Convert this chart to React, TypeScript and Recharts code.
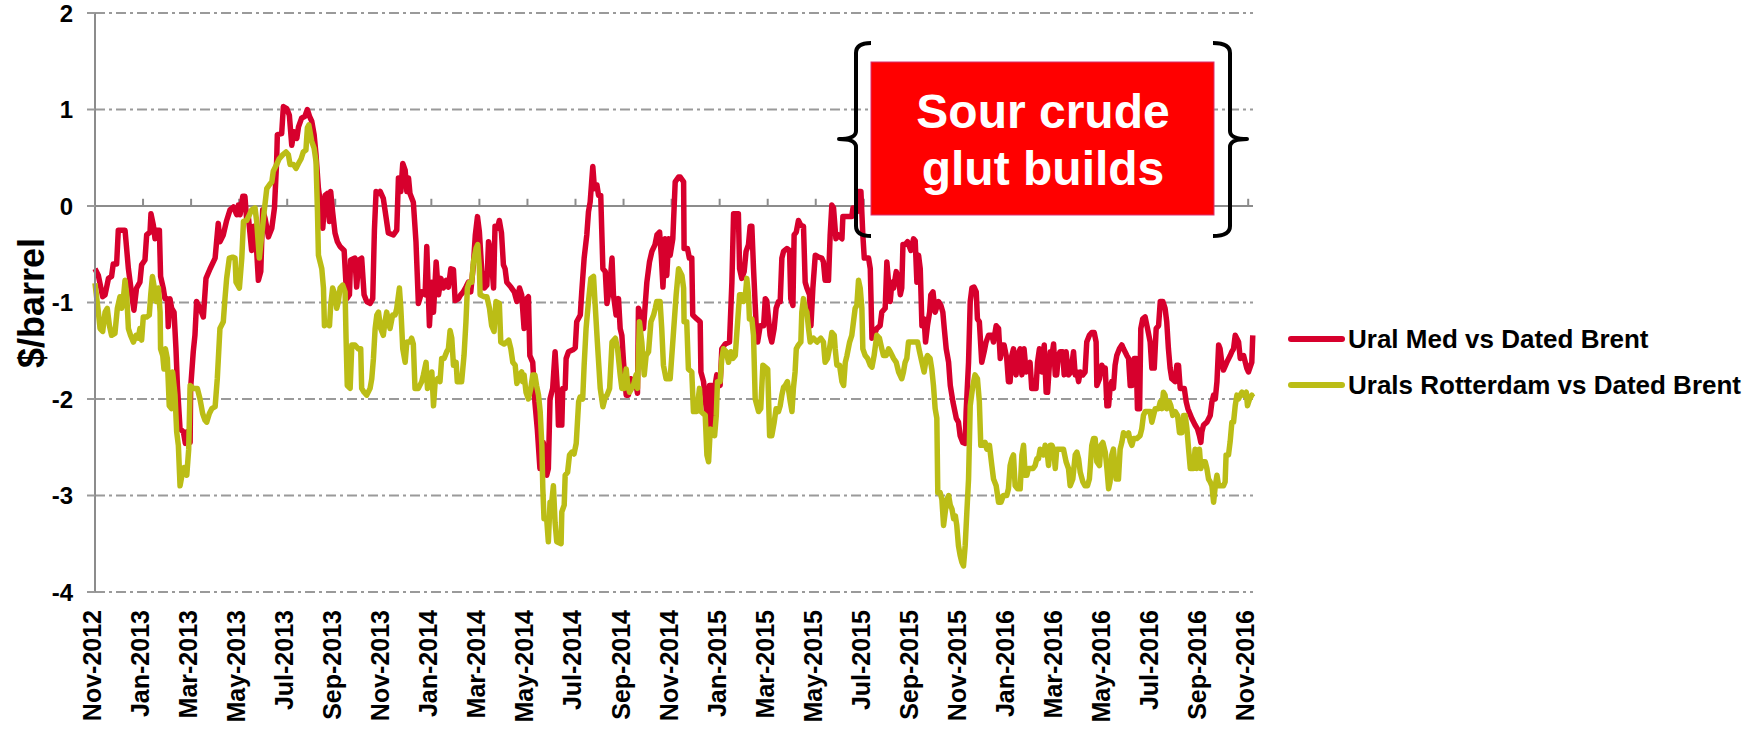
import { CartesianGrid, Line, LineChart, ReferenceLine, XAxis, YAxis } from 'recharts'

const FONT = '"Liberation Sans", Arial, sans-serif'
const RED = '#D7002D'
const OLIVE = '#BBBD16'
const GRID = '#9a9a9a'
const AXIS = '#8c8c8c'

// x = months since Nov-2012, y = $/barrel
const uralMed: [number, number][] = [
  [0, -0.65], [0.14, -0.72], [0.32, -0.94], [0.42, -0.92], [0.56, -0.75], [0.69, -0.73], [0.76, -0.6], [0.9, -0.6],
  [0.97, -0.25], [1.25, -0.25], [1.39, -0.65], [1.53, -0.92], [1.62, -1.08], [1.73, -0.85], [1.87, -0.79], [1.94, -0.61],
  [2.08, -0.56], [2.15, -0.3], [2.29, -0.27], [2.33, -0.08], [2.43, -0.2], [2.5, -0.34], [2.57, -0.25], [2.68, -0.25],
  [2.73, -0.73], [2.84, -0.85], [2.91, -0.96], [3.01, -0.96], [3.05, -1.25], [3.12, -0.96], [3.19, -1.06], [3.29, -1.1],
  [3.37, -1.48], [3.43, -1.86], [3.54, -2.31], [3.68, -2.34], [3.76, -2.46], [3.84, -2.34], [3.96, -2.45], [3.98, -1.89],
  [4.09, -1.51], [4.16, -1.34], [4.23, -0.99], [4.37, -1.06], [4.51, -1.15], [4.62, -0.75], [4.79, -0.65], [5.0, -0.54],
  [5.13, -0.18], [5.2, -0.37], [5.34, -0.3], [5.48, -0.15], [5.62, -0.04], [5.76, -0.01], [5.9, -0.09], [5.97, 0.01],
  [6.04, -0.09], [6.15, 0.1], [6.24, 0.1], [6.31, -0.13], [6.38, -0.1], [6.52, -0.46], [6.62, -0.21], [6.73, -0.47],
  [6.8, -0.77], [6.9, -0.68], [6.98, -0.04], [7.08, -0.13], [7.22, -0.32], [7.36, -0.23], [7.47, -0.02], [7.56, 0.46],
  [7.59, 0.74], [7.77, 0.75], [7.84, 1.03], [7.98, 1.01], [8.09, 0.94], [8.19, 0.63], [8.28, 0.77], [8.4, 0.7],
  [8.47, 0.82], [8.6, 0.91], [8.74, 0.93], [8.84, 1.0], [8.93, 0.93], [9.02, 0.88], [9.12, 0.74], [9.2, 0.53],
  [9.3, 0.18], [9.4, 0.01], [9.48, -0.23], [9.58, 0.11], [9.67, 0.13], [9.76, -0.16], [9.81, 0.15], [9.89, -0.06],
  [9.99, -0.28], [10.09, -0.37], [10.2, -0.42], [10.37, -0.46], [10.48, -0.96], [10.59, -0.92], [10.64, -0.56], [10.82, -0.54],
  [10.89, -0.84], [10.99, -0.56], [11.1, -0.54], [11.2, -0.92], [11.31, -0.99], [11.45, -1.01], [11.56, -0.96], [11.63, -0.25],
  [11.7, 0.15], [11.81, 0.13], [11.87, 0.15], [12.0, 0.08], [12.21, -0.28], [12.42, -0.3], [12.56, -0.25], [12.63, 0.29],
  [12.73, 0.15], [12.81, 0.44], [12.91, 0.37], [12.98, 0.15], [13.05, 0.29], [13.11, 0.13], [13.25, 0.04], [13.36, -0.37],
  [13.46, -1.01], [13.6, -0.89], [13.74, -0.92], [13.81, -0.42], [13.92, -1.24], [14.02, -0.79], [14.09, -1.1], [14.2, -0.58],
  [14.3, -0.92], [14.4, -0.75], [14.5, -0.85], [14.62, -0.77], [14.71, -0.84], [14.81, -0.65], [14.92, -0.66], [14.99, -0.98],
  [15.13, -0.96], [15.22, -0.92], [15.33, -0.89], [15.44, -0.84], [15.54, -0.79], [15.64, -0.89], [15.75, -0.61], [15.83, -0.3],
  [15.92, -0.11], [16.0, -0.27], [16.1, -0.68], [16.2, -0.85], [16.31, -0.82], [16.38, -0.37], [16.47, -0.47], [16.59, -0.85],
  [16.65, -0.21], [16.75, -0.23], [16.83, -0.15], [16.92, -0.28], [17.0, -0.61], [17.07, -0.65], [17.14, -0.79], [17.31, -0.84],
  [17.45, -0.89], [17.56, -0.99], [17.67, -0.85], [17.76, -0.92], [17.86, -1.27], [17.97, -0.96], [18.04, -0.94], [18.1, -1.55],
  [18.22, -1.62], [18.31, -2.03], [18.41, -2.31], [18.52, -2.72], [18.66, -2.45], [18.8, -2.79], [18.87, -2.72], [18.94, -2.0],
  [19.05, -1.89], [19.15, -1.51], [19.25, -1.93], [19.29, -2.27], [19.43, -2.27], [19.47, -1.89], [19.57, -1.89], [19.61, -1.58],
  [19.71, -1.51], [19.89, -1.49], [19.99, -1.47], [20.05, -1.2], [20.2, -1.13], [20.26, -0.89], [20.36, -0.54], [20.47, -0.3],
  [20.54, -0.06], [20.61, 0.04], [20.72, 0.41], [20.79, 0.18], [20.89, 0.22], [20.96, 0.11], [21.05, 0.11], [21.14, -0.65],
  [21.24, -0.68], [21.31, -1.01], [21.42, -0.85], [21.52, -0.54], [21.58, -0.92], [21.69, -1.13], [21.79, -0.96], [21.86, -1.27],
  [21.93, -1.34], [22.0, -1.62], [22.11, -1.96], [22.2, -1.96], [22.3, -1.79], [22.39, -1.82], [22.48, -1.79], [22.58, -1.94],
  [22.62, -1.06], [22.72, -1.13], [22.83, -1.27], [22.9, -1.03], [22.97, -0.79], [23.08, -0.58], [23.18, -0.47], [23.31, -0.4],
  [23.39, -0.3], [23.5, -0.27], [23.57, -0.51], [23.64, -0.84], [23.73, -0.34], [23.8, -0.72], [23.88, -0.34], [23.94, -0.51],
  [24.05, -0.34], [24.15, 0.25], [24.29, 0.3], [24.36, 0.3], [24.5, 0.25], [24.52, -0.44], [24.66, -0.44], [24.74, -0.54],
  [24.84, -0.54], [24.88, -1.13], [25.05, -1.17], [25.19, -1.2], [25.22, -1.72], [25.33, -1.82], [25.4, -2.0], [25.47, -2.17],
  [25.54, -2.31], [25.58, -1.86], [25.67, -1.86], [25.74, -2.31], [25.81, -1.86], [25.88, -1.75], [26.02, -1.86], [26.09, -1.48],
  [26.23, -1.43], [26.41, -1.41], [26.51, -0.79], [26.58, -0.08], [26.78, -0.08], [26.83, -0.65], [26.92, -0.75], [27.02, -0.68],
  [27.1, -0.47], [27.2, -0.4], [27.27, -0.21], [27.34, -0.21], [27.41, -0.65], [27.52, -1.24], [27.58, -1.41], [27.69, -1.24],
  [27.83, -1.24], [27.9, -0.96], [27.96, -0.98], [28.1, -1.34], [28.17, -1.41], [28.27, -1.27], [28.35, -1.06], [28.45, -0.99],
  [28.52, -0.99], [28.59, -0.54], [28.66, -0.47], [28.8, -0.44], [28.91, -0.46], [28.96, -0.96], [29.05, -1.03], [29.1, -0.3],
  [29.19, -0.27], [29.28, -0.15], [29.38, -0.2], [29.49, -0.21], [29.56, -0.79], [29.63, -0.85], [29.74, -0.92], [29.8, -1.24],
  [29.88, -0.85], [29.98, -0.51], [30.12, -0.53], [30.25, -0.54], [30.32, -0.58], [30.39, -0.77], [30.53, -0.77], [30.6, -0.3],
  [30.67, 0.01], [30.74, -0.02], [30.84, -0.34], [30.95, -0.3], [31.09, -0.34], [31.13, -0.11], [31.29, -0.11], [31.5, -0.11],
  [31.55, -0.02], [31.71, -0.06], [31.78, 0.15], [31.88, 0.15], [31.96, -0.3], [32.02, -0.54], [32.2, -0.54], [32.27, -0.65],
  [32.34, -1.37], [32.43, -1.34], [32.54, -1.27], [32.68, -1.24], [32.75, -1.1], [32.89, -1.06], [32.96, -0.58], [33.03, -0.79],
  [33.1, -0.99], [33.17, -0.79], [33.24, -0.85], [33.35, -0.68], [33.45, -0.75], [33.52, -0.92], [33.58, -0.85], [33.63, -0.4],
  [33.72, -0.4], [33.82, -0.37], [33.96, -0.46], [34.07, -0.34], [34.14, -0.36], [34.21, -0.79], [34.28, -0.51], [34.35, -0.65],
  [34.42, -1.24], [34.51, -1.17], [34.57, -1.41], [34.65, -1.24], [34.74, -1.1], [34.79, -0.92], [34.88, -0.89], [34.97, -1.1],
  [35.11, -0.99], [35.21, -1.03], [35.29, -1.1], [35.35, -1.27], [35.43, -1.48], [35.53, -1.62], [35.6, -1.86], [35.71, -2.03],
  [35.85, -2.2], [35.94, -2.24], [36.01, -2.38], [36.12, -2.45], [36.22, -2.46], [36.26, -2.13], [36.36, -1.62], [36.43, -0.99],
  [36.5, -0.85], [36.59, -0.84], [36.68, -0.89], [36.73, -1.17], [36.81, -1.2], [36.91, -1.62], [37.01, -1.51], [37.09, -1.41],
  [37.19, -1.34], [37.33, -1.34], [37.4, -1.41], [37.51, -1.24], [37.61, -1.27], [37.68, -1.58], [37.74, -1.44], [37.84, -1.44],
  [37.95, -1.58], [38.02, -1.82], [38.09, -1.82], [38.16, -1.55], [38.23, -1.48], [38.34, -1.75], [38.4, -1.55], [38.51, -1.48],
  [38.58, -1.75], [38.67, -1.48], [38.76, -1.72], [38.85, -1.68], [38.92, -1.62], [38.99, -1.89], [39.17, -1.89], [39.23, -1.62],
  [39.31, -1.48], [39.41, -1.72], [39.51, -1.44], [39.59, -1.93], [39.65, -1.93], [39.76, -1.51], [39.83, -1.55], [39.9, -1.43],
  [39.97, -1.75], [40.03, -1.75], [40.1, -1.55], [40.17, -1.51], [40.28, -1.51], [40.34, -1.75], [40.42, -1.51], [40.52, -1.75],
  [40.62, -1.72], [40.73, -1.51], [40.8, -1.75], [40.87, -1.72], [40.94, -1.82], [41.01, -1.72], [41.12, -1.75], [41.21, -1.72],
  [41.28, -1.41], [41.39, -1.34], [41.49, -1.31], [41.59, -1.31], [41.67, -1.41], [41.7, -1.86], [41.81, -1.79], [41.91, -1.65],
  [41.98, -1.72], [42.05, -1.68], [42.12, -2.07], [42.19, -2.07], [42.25, -1.89], [42.32, -1.82], [42.39, -1.89], [42.46, -1.65],
  [42.53, -1.55], [42.64, -1.48], [42.74, -1.44], [42.81, -1.48], [42.95, -1.55], [43.02, -1.58], [43.09, -1.86], [43.16, -1.86],
  [43.25, -1.58], [43.34, -1.58], [43.39, -2.1], [43.48, -2.1], [43.53, -1.27], [43.61, -1.17], [43.71, -1.15], [43.81, -1.27],
  [43.92, -1.41], [43.99, -1.68], [44.09, -1.68], [44.17, -1.27], [44.27, -1.24], [44.34, -0.99], [44.45, -0.99], [44.54, -1.06],
  [44.61, -1.2], [44.68, -1.48], [44.75, -1.68], [44.82, -1.79], [44.96, -1.82], [45.03, -1.65], [45.1, -1.65], [45.17, -1.89],
  [45.34, -1.89], [45.42, -2.03], [45.49, -2.1], [45.65, -2.2], [45.79, -2.27], [45.89, -2.31], [45.97, -2.38], [46.03, -2.45],
  [46.07, -2.34], [46.14, -2.27], [46.28, -2.24], [46.42, -2.17], [46.49, -2.03], [46.56, -1.96], [46.63, -2.0], [46.7, -1.82],
  [46.77, -1.44], [46.83, -1.48], [46.9, -1.62], [46.97, -1.7], [47.11, -1.62], [47.25, -1.55], [47.32, -1.51], [47.39, -1.48],
  [47.46, -1.34], [47.6, -1.41], [47.67, -1.58], [47.81, -1.55], [47.94, -1.68], [48.01, -1.72], [48.15, -1.62], [48.19, -1.34],
]

const uralsRotterdam: [number, number][] = [
  [0, -0.8], [0.14, -1.1], [0.21, -1.27], [0.32, -1.3], [0.42, -1.1], [0.51, -1.06], [0.6, -1.24], [0.69, -1.34],
  [0.83, -1.32], [0.93, -1.06], [1.04, -0.94], [1.11, -1.06], [1.18, -0.96], [1.25, -0.77], [1.32, -0.92], [1.39, -1.27],
  [1.48, -1.34], [1.6, -1.41], [1.71, -1.34], [1.8, -1.37], [1.87, -1.27], [1.94, -1.39], [2.01, -1.15], [2.15, -1.15],
  [2.26, -1.13], [2.32, -0.92], [2.39, -0.73], [2.47, -0.85], [2.54, -0.99], [2.64, -0.85], [2.71, -1.1], [2.73, -1.48],
  [2.82, -1.55], [2.87, -1.69], [2.93, -1.48], [3.01, -1.58], [3.09, -2.07], [3.19, -2.1], [3.23, -1.72], [3.33, -1.96],
  [3.4, -2.34], [3.47, -2.48], [3.54, -2.9], [3.62, -2.79], [3.71, -2.71], [3.82, -2.79], [3.9, -2.52], [3.96, -1.86],
  [4.09, -1.89], [4.26, -1.89], [4.37, -2.0], [4.48, -2.15], [4.58, -2.22], [4.65, -2.24], [4.76, -2.15], [4.86, -2.1],
  [5.0, -2.08], [5.09, -1.79], [5.2, -1.27], [5.34, -1.2], [5.41, -0.96], [5.48, -0.75], [5.59, -0.54], [5.73, -0.53],
  [5.83, -0.54], [5.87, -0.79], [6.01, -0.85], [6.11, -0.54], [6.18, -0.16], [6.31, -0.15], [6.43, -0.09], [6.52, -0.04],
  [6.66, -0.02], [6.73, -0.16], [6.84, -0.54], [6.94, -0.3], [7.04, -0.06], [7.15, 0.18], [7.26, 0.22], [7.36, 0.25],
  [7.42, 0.36], [7.56, 0.43], [7.67, 0.49], [7.81, 0.53], [7.95, 0.56], [8.05, 0.53], [8.12, 0.43], [8.26, 0.43],
  [8.37, 0.39], [8.47, 0.44], [8.58, 0.49], [8.67, 0.56], [8.78, 0.58], [8.84, 0.81], [8.9, 0.84], [8.95, 0.77],
  [9.02, 0.67], [9.12, 0.6], [9.2, 0.46], [9.26, -0.06], [9.3, -0.51], [9.44, -0.65], [9.51, -0.85], [9.55, -1.24],
  [9.65, -1.22], [9.76, -1.24], [9.81, -1.03], [9.89, -0.85], [9.99, -0.92], [10.06, -1.06], [10.13, -0.99], [10.2, -0.85],
  [10.31, -0.82], [10.41, -0.89], [10.45, -1.37], [10.5, -1.86], [10.62, -1.89], [10.69, -1.44], [10.82, -1.44], [10.96, -1.48],
  [11.06, -1.48], [11.1, -1.89], [11.2, -1.93], [11.31, -1.96], [11.45, -1.89], [11.52, -1.79], [11.59, -1.58], [11.66, -1.27],
  [11.73, -1.13], [11.8, -1.1], [11.89, -1.27], [12.0, -1.34], [12.07, -1.2], [12.14, -1.1], [12.28, -1.27], [12.39, -1.13],
  [12.49, -1.13], [12.56, -1.06], [12.67, -0.85], [12.73, -1.06], [12.81, -1.48], [12.91, -1.62], [12.98, -1.41], [13.11, -1.41],
  [13.18, -1.37], [13.25, -1.43], [13.32, -1.89], [13.46, -1.89], [13.6, -1.82], [13.67, -1.75], [13.78, -1.62], [13.84, -1.89],
  [13.95, -1.82], [14.02, -1.72], [14.09, -2.07], [14.16, -1.82], [14.26, -1.79], [14.36, -1.82], [14.43, -1.58], [14.53, -1.58],
  [14.64, -1.51], [14.71, -1.48], [14.78, -1.29], [14.85, -1.37], [14.92, -1.65], [15.03, -1.62], [15.08, -1.82], [15.26, -1.82],
  [15.36, -1.55], [15.44, -1.2], [15.5, -0.85], [15.58, -0.79], [15.68, -0.79], [15.75, -0.58], [15.86, -0.44], [15.93, -0.4],
  [16.0, -0.65], [16.03, -0.92], [16.2, -0.94], [16.31, -0.94], [16.42, -1.06], [16.51, -1.24], [16.61, -1.3], [16.69, -0.99],
  [16.83, -1.01], [16.89, -1.41], [17.03, -1.43], [17.14, -1.41], [17.22, -1.39], [17.31, -1.48], [17.39, -1.62], [17.49, -1.65],
  [17.56, -1.84], [17.67, -1.75], [17.76, -1.72], [17.8, -1.82], [17.86, -1.75], [17.94, -1.93], [18.04, -2.0], [18.14, -1.89],
  [18.22, -1.75], [18.31, -1.75], [18.38, -1.86], [18.46, -1.96], [18.53, -2.13], [18.6, -2.48], [18.64, -2.93], [18.69, -3.24],
  [18.8, -3.24], [18.87, -3.48], [18.94, -3.07], [19.01, -3.07], [19.08, -2.9], [19.15, -3.28], [19.22, -3.48], [19.4, -3.5],
  [19.43, -3.17], [19.53, -3.1], [19.57, -2.79], [19.67, -2.76], [19.75, -2.58], [19.85, -2.55], [19.94, -2.57], [20.03, -2.46],
  [20.13, -2.03], [20.19, -1.98], [20.3, -2.0], [20.36, -1.65], [20.44, -1.27], [20.54, -0.99], [20.64, -0.75], [20.75, -0.73],
  [20.82, -1.03], [20.91, -1.41], [21.03, -1.89], [21.14, -2.08], [21.24, -1.98], [21.31, -1.96], [21.42, -1.89], [21.52, -1.41],
  [21.66, -1.37], [21.75, -1.48], [21.86, -1.75], [21.93, -1.89], [22.03, -1.89], [22.11, -1.69], [22.16, -1.82], [22.25, -1.93],
  [22.34, -1.89], [22.41, -1.86], [22.52, -1.75], [22.58, -1.89], [22.66, -1.2], [22.76, -1.41], [22.86, -1.75], [22.94, -1.55],
  [23.04, -1.51], [23.14, -1.2], [23.25, -1.13], [23.32, -1.06], [23.38, -0.99], [23.52, -0.99], [23.59, -1.27], [23.66, -1.65],
  [23.77, -1.79], [23.94, -1.79], [24.07, -1.34], [24.19, -0.92], [24.29, -0.65], [24.43, -0.72], [24.5, -0.85], [24.52, -1.2],
  [24.63, -1.2], [24.7, -1.69], [24.84, -1.72], [24.91, -2.13], [25.05, -2.13], [25.16, -1.89], [25.22, -2.13], [25.4, -2.17],
  [25.47, -2.58], [25.54, -2.65], [25.61, -2.31], [25.74, -2.34], [25.79, -2.38], [25.86, -2.17], [25.91, -1.82], [26.02, -1.82],
  [26.09, -1.58], [26.16, -1.48], [26.27, -1.51], [26.37, -1.62], [26.47, -1.51], [26.55, -1.58], [26.65, -1.55], [26.72, -1.3],
  [26.83, -0.92], [26.92, -0.92], [26.99, -0.99], [27.06, -0.96], [27.13, -0.75], [27.2, -0.92], [27.24, -1.17], [27.34, -1.17],
  [27.41, -1.34], [27.48, -2.0], [27.62, -2.13], [27.71, -2.1], [27.8, -1.65], [27.9, -1.67], [28.0, -1.69], [28.08, -2.38],
  [28.17, -2.38], [28.27, -2.24], [28.35, -2.1], [28.45, -2.13], [28.52, -2.07], [28.59, -1.96], [28.66, -1.88], [28.73, -1.86],
  [28.82, -1.82], [28.94, -2.03], [29.01, -2.13], [29.07, -1.89], [29.14, -1.72], [29.19, -1.48], [29.28, -1.44], [29.38, -1.41],
  [29.42, -1.1], [29.49, -0.96], [29.56, -1.06], [29.63, -1.1], [29.7, -1.27], [29.77, -1.41], [29.91, -1.37], [30.05, -1.41],
  [30.21, -1.37], [30.32, -1.41], [30.39, -1.62], [30.49, -1.58], [30.57, -1.48], [30.67, -1.31], [30.77, -1.34], [30.81, -1.48],
  [30.88, -1.65], [30.99, -1.65], [31.09, -1.82], [31.16, -1.86], [31.23, -1.62], [31.3, -1.55], [31.41, -1.41], [31.5, -1.34],
  [31.57, -1.2], [31.64, -1.06], [31.71, -1.03], [31.78, -0.77], [31.85, -0.85], [31.92, -1.06], [31.96, -1.48], [32.06, -1.55],
  [32.16, -1.58], [32.27, -1.65], [32.34, -1.67], [32.43, -1.55], [32.54, -1.34], [32.65, -1.37], [32.75, -1.48], [32.82, -1.55],
  [32.93, -1.55], [33.03, -1.48], [33.1, -1.51], [33.24, -1.58], [33.35, -1.62], [33.45, -1.72], [33.58, -1.79], [33.65, -1.72],
  [33.72, -1.62], [33.79, -1.58], [33.86, -1.41], [34.0, -1.41], [34.14, -1.41], [34.24, -1.41], [34.32, -1.51], [34.42, -1.62],
  [34.51, -1.72], [34.6, -1.58], [34.65, -1.55], [34.76, -1.58], [34.83, -1.69], [34.9, -1.86], [34.97, -2.1], [35.04, -2.2],
  [35.08, -2.97], [35.18, -2.97], [35.25, -3.04], [35.32, -3.31], [35.39, -3.17], [35.46, -3.04], [35.53, -3.0], [35.6, -3.1],
  [35.67, -3.14], [35.74, -3.24], [35.81, -3.21], [35.87, -3.31], [35.94, -3.52], [36.01, -3.62], [36.08, -3.69], [36.15, -3.73],
  [36.22, -3.52], [36.29, -3.17], [36.36, -2.83], [36.43, -2.07], [36.54, -1.86], [36.63, -1.75], [36.73, -1.79], [36.81, -2.03],
  [36.87, -2.48], [36.98, -2.48], [37.05, -2.45], [37.12, -2.52], [37.23, -2.48], [37.33, -2.69], [37.4, -2.83], [37.51, -2.9],
  [37.61, -3.07], [37.71, -3.07], [37.81, -3.0], [37.95, -3.0], [38.02, -2.93], [38.09, -2.69], [38.16, -2.62], [38.23, -2.58],
  [38.3, -2.9], [38.4, -2.93], [38.51, -2.93], [38.58, -2.58], [38.65, -2.48], [38.72, -2.79], [38.79, -2.79], [38.85, -2.72],
  [38.95, -2.72], [39.04, -2.72], [39.13, -2.69], [39.2, -2.62], [39.27, -2.62], [39.34, -2.52], [39.41, -2.55], [39.48, -2.58],
  [39.55, -2.48], [39.62, -2.52], [39.69, -2.69], [39.76, -2.48], [39.83, -2.48], [39.9, -2.52], [39.97, -2.72], [40.03, -2.52],
  [40.17, -2.52], [40.31, -2.52], [40.42, -2.65], [40.52, -2.72], [40.59, -2.9], [40.7, -2.83], [40.8, -2.58], [40.87, -2.55],
  [40.94, -2.62], [41.01, -2.76], [41.12, -2.86], [41.21, -2.9], [41.31, -2.9], [41.39, -2.83], [41.49, -2.48], [41.56, -2.41],
  [41.63, -2.41], [41.7, -2.65], [41.81, -2.69], [41.87, -2.48], [41.95, -2.45], [42.05, -2.55], [42.12, -2.72], [42.19, -2.93],
  [42.25, -2.86], [42.32, -2.58], [42.39, -2.52], [42.5, -2.83], [42.6, -2.83], [42.67, -2.52], [42.74, -2.45], [42.81, -2.35],
  [42.95, -2.38], [43.02, -2.35], [43.09, -2.44], [43.16, -2.48], [43.23, -2.41], [43.36, -2.41], [43.5, -2.38], [43.57, -2.31],
  [43.64, -2.17], [43.71, -2.13], [43.85, -2.13], [43.92, -2.13], [43.99, -2.24], [44.06, -2.17], [44.13, -2.1], [44.27, -2.1],
  [44.34, -2.03], [44.41, -2.1], [44.47, -1.93], [44.54, -1.96], [44.61, -2.1], [44.72, -2.03], [44.78, -2.07], [44.86, -2.17],
  [44.96, -2.13], [45.06, -2.17], [45.14, -2.35], [45.24, -2.35], [45.31, -2.17], [45.38, -2.17], [45.45, -2.31], [45.52, -2.52],
  [45.59, -2.72], [45.72, -2.72], [45.79, -2.52], [45.86, -2.72], [45.97, -2.52], [46.03, -2.72], [46.11, -2.65], [46.21, -2.65],
  [46.28, -2.72], [46.35, -2.83], [46.42, -2.86], [46.49, -2.9], [46.56, -3.07], [46.63, -2.9], [46.7, -2.79], [46.77, -2.9],
  [46.83, -2.9], [46.97, -2.9], [47.04, -2.86], [47.08, -2.58], [47.18, -2.58], [47.25, -2.44], [47.32, -2.24], [47.39, -2.24],
  [47.46, -2.07], [47.53, -1.96], [47.6, -2.0], [47.67, -1.96], [47.74, -1.93], [47.81, -1.96], [47.92, -1.93], [47.97, -2.07],
  [48.06, -2.0], [48.15, -1.96], [48.19, -1.98],
]

const tickMonths = [0, 2, 4, 6, 8, 10, 12, 14, 16, 18, 20, 22, 24, 26, 28, 30, 32, 34, 36, 38, 40, 42, 44, 46, 48]
const tickLabels = [
  'Nov-2012', 'Jan-2013', 'Mar-2013', 'May-2013', 'Jul-2013', 'Sep-2013', 'Nov-2013', 'Jan-2014', 'Mar-2014',
  'May-2014', 'Jul-2014', 'Sep-2014', 'Nov-2014', 'Jan-2015', 'Mar-2015', 'May-2015', 'Jul-2015', 'Sep-2015',
  'Nov-2015', 'Jan-2016', 'Mar-2016', 'May-2016', 'Jul-2016', 'Sep-2016', 'Nov-2016',
]
const yTicks = [-4, -3, -2, -1, 0, 1, 2]
const seriesNames = ['Ural Med vs Dated Brent', 'Urals Rotterdam vs Dated Brent']
const seriesColors = [RED, OLIVE]

const toRows = (pairs: [number, number][]) => pairs.map(([m, v]) => ({ m, v }))

function MonthTick({ x, payload }: { x?: number; y?: number; payload?: { value: number } }) {
  const idx = tickMonths.indexOf(Number(payload?.value))
  const top = 610
  return (
    <text
      x={x}
      y={top}
      dy={6}
      transform={`rotate(-90, ${x}, ${top})`}
      textAnchor="end"
      fontFamily={FONT}
      fontWeight={700}
      fontSize={25}
      fill="#000"
    >
      {tickLabels[idx]}
    </text>
  )
}

export default function App() {
  return (
    <div style={{ position: 'absolute', left: 0, top: 0, width: 1748, height: 735, background: '#fff', overflow: 'hidden' }}>
      <LineChart width={1748} height={735} margin={{ top: 13, right: 495, bottom: 0, left: 0 }}>
        <CartesianGrid vertical={false} stroke={GRID} strokeWidth={2} strokeDasharray="10 4 3 4" />
        <XAxis
          type="number"
          dataKey="m"
          domain={[0, 48.2]}
          ticks={tickMonths}
          interval={0}
          axisLine={false}
          tickLine={false}
          height={143}
          tick={<MonthTick />}
        />
        <YAxis
          type="number"
          domain={[-4, 2]}
          ticks={yTicks}
          width={95}
          tickSize={8}
          tickMargin={14}
          axisLine={{ stroke: AXIS, strokeWidth: 2 }}
          tickLine={{ stroke: GRID, strokeWidth: 2 }}
          tick={{ fontFamily: FONT, fontWeight: 700, fontSize: 24, fill: '#000' }}
        />
        <ReferenceLine y={0} stroke={AXIS} strokeWidth={2} />
        {tickMonths.map((m) => (
          <ReferenceLine key={m} segment={[{ x: m, y: 0 }, { x: m, y: 0.075 }]} stroke={AXIS} strokeWidth={2} />
        ))}
        <Line
          data={toRows(uralMed)}
          dataKey="v"
          name={seriesNames[0]}
          type="linear"
          stroke={RED}
          strokeWidth={5.5}
          strokeLinejoin="round"
          dot={false}
          activeDot={false}
          isAnimationActive={false}
        />
        <Line
          data={toRows(uralsRotterdam)}
          dataKey="v"
          name={seriesNames[1]}
          type="linear"
          stroke={OLIVE}
          strokeWidth={5.5}
          strokeLinejoin="round"
          dot={false}
          activeDot={false}
          isAnimationActive={false}
        />
      </LineChart>

      {/* annotation, braces, legend and axis title */}
      <svg width={1748} height={735} style={{ position: 'absolute', left: 0, top: 0, pointerEvents: 'none' }}>
        <text
          x={44}
          y={303}
          transform="rotate(-90, 44, 303)"
          textAnchor="middle"
          fontFamily={FONT}
          fontWeight={700}
          fontSize={36}
          fill="#000"
        >
          $/barrel
        </text>

        <rect x={871} y={62} width={343} height={153} fill="#FF0000" stroke="#d83070" strokeWidth={1} />
        <text x={1043} y={128} textAnchor="middle" fontFamily={FONT} fontWeight={700} fontSize={48} fill="#fff">
          Sour crude
        </text>
        <text x={1043} y={185} textAnchor="middle" fontFamily={FONT} fontWeight={700} fontSize={48} fill="#fff">
          glut builds
        </text>

        <path
          d="M 871 43 Q 856 43 856 53 L 856 131 Q 856 139 839 139 Q 856 139 856 147 L 856 226 Q 856 236 871 236"
          fill="none"
          stroke="#000"
          strokeWidth={4}
          strokeLinejoin="round"
        />
        <path
          d="M 1213 43 Q 1230 43 1230 53 L 1230 131 Q 1230 139 1247 139 Q 1230 139 1230 147 L 1230 226 Q 1230 236 1213 236"
          fill="none"
          stroke="#000"
          strokeWidth={4}
          strokeLinejoin="round"
        />

        {seriesNames.map((name, i) => {
          const cy = 339 + i * 46
          return (
            <g key={name}>
              <line x1={1291} x2={1342} y1={cy} y2={cy} stroke={seriesColors[i]} strokeWidth={6} strokeLinecap="round" />
              <text x={1348} y={cy + 9} fontFamily={FONT} fontWeight={700} fontSize={26} fill="#000">
                {name}
              </text>
            </g>
          )
        })}
      </svg>
    </div>
  )
}
